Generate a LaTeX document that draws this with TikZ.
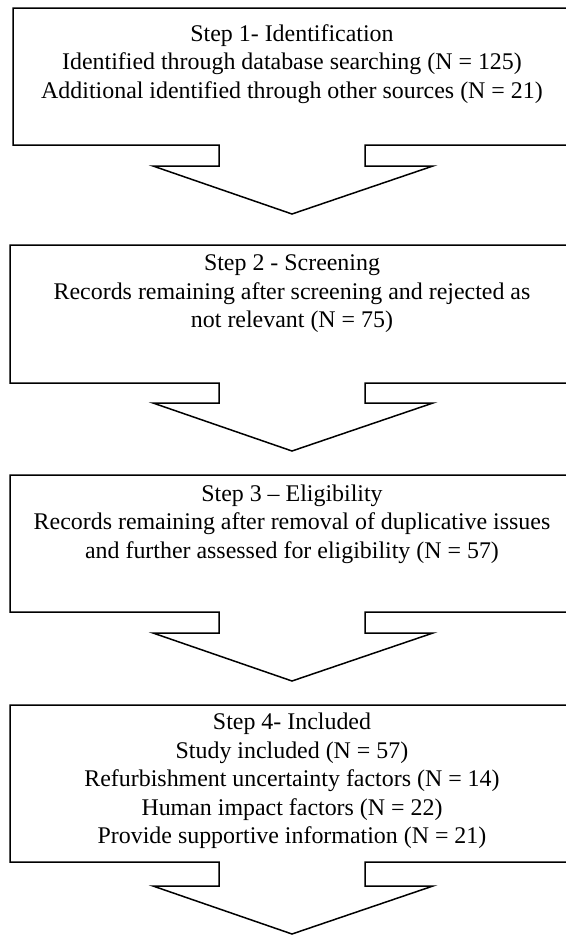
\documentclass[tikz,border=0pt]{standalone}
\usepackage{fontspec}
\setmainfont{Liberation Serif}
\tikzset{
  stepshape/.style={draw,line width=1.5bp,line join=miter},
  steptext/.style={align=center,inner sep=0pt,font=\fontsize{24}{28.5}\selectfont}
}
\begin{document}
\begin{tikzpicture}[x=1bp,y=-1bp]
      \useasboundingbox (0,0) rectangle (566,937);
      \clip (0,0) rectangle (566,937);

      % box and arrow outlines
      \draw [stepshape] (13,8)--(571,8)--(571,145)--(365,145)--(365,166)--(433,166)--(292,214)--(153,166)--(219,166)--(219,145)--(13,145)--cycle;
      \draw [stepshape] (10,245)--(574,245)--(574,383)--(365,383)--(365,403)--(433,403)--(292,451)--(153,403)--(219,403)--(219,383)--(10,383)--cycle;
      \draw [stepshape] (10,475)--(574,475)--(574,612)--(365,612)--(365,633)--(433,633)--(292,681)--(153,633)--(219,633)--(219,612)--(10,612)--cycle;
      \draw [stepshape] (10,705)--(574,705)--(574,862)--(365,862)--(365,886)--(433,886)--(292,934)--(153,886)--(219,886)--(219,862)--(10,862)--cycle;

      \node [steptext] (Ident) at (292,64) {Step 1- Identification\\Identified through database searching (N = 125)\\Additional identified through other sources (N = 21)};
      \node [steptext] (Screen) at (292,294) {Step 2 - Screening\\Records remaining after screening and rejected as\\not relevant (N = 75)};
      \node [steptext] (Elig) at (292,524) {Step 3 -- Eligibility\\Records remaining after removal of duplicative issues\\and further assessed for eligibility (N = 57)};
      \node [steptext] (Incl) at (292,781) {Step 4- Included\\Study included (N = 57)\\Refurbishment uncertainty factors (N = 14)\\Human impact factors (N = 22)\\Provide supportive information (N = 21)};
    \end{tikzpicture}
\end{document}
